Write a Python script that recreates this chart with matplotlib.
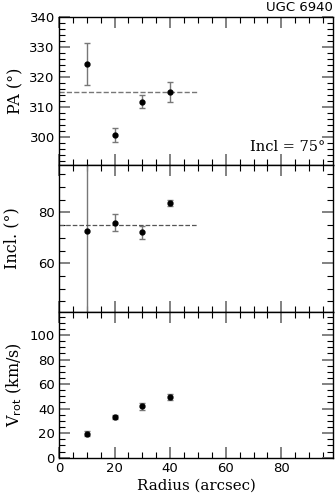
import numpy as np
import matplotlib
matplotlib.use("Agg")
import matplotlib.pyplot as plt
from matplotlib.ticker import MultipleLocator

radius = [10, 20, 30, 40]

pa = [324.5, 300.8, 311.9, 315.2]
pa_err = [7.0, 2.3, 2.2, 3.4]
pa_mean = 315.0

incl = [72.5, 75.9, 72.2, 83.8]
incl_err = [40.0, 3.4, 2.5, 1.2]
incl_mean = 75.0

vrot = [19.5, 33.0, 41.8, 49.8]
vrot_err = [2.0, 1.5, 3.0, 2.5]

serif = "DejaVu Serif"
sans = "DejaVu Sans"

fig = plt.figure(figsize=(3.35, 4.99), dpi=100)
left, width = 0.176, 0.818
ax1 = fig.add_axes([left, 0.670, width, 0.2953])
ax2 = fig.add_axes([left, 0.3754, width, 0.2946])
ax3 = fig.add_axes([left, 0.0828, width, 0.2926])


def style(ax, ymaj, ymin):
    ax.set_xlim(0, 98.6)
    ax.xaxis.set_major_locator(MultipleLocator(20))
    ax.xaxis.set_minor_locator(MultipleLocator(5))
    ax.yaxis.set_major_locator(MultipleLocator(ymaj))
    ax.yaxis.set_minor_locator(MultipleLocator(ymin))
    ax.tick_params(which="both", direction="in", top=True, right=True)
    ax.tick_params(which="major", length=8, width=1.3, color="#777777",
                   labelsize=9.5, pad=3)
    ax.tick_params(which="minor", length=4, width=0.8, color="black")
    for s in ax.spines.values():
        s.set_linewidth(1.0)
    for lab in ax.get_xticklabels() + ax.get_yticklabels():
        lab.set_family(sans)
    ax.yaxis.set_label_coords(-0.128, 0.5)


def points(ax, y, err):
    ax.errorbar(radius, y, yerr=err, fmt="o", color="black", ms=3.5,
                ecolor="#777777", elinewidth=1.0, capsize=2.5, capthick=1.0)


# PA panel
points(ax1, pa, pa_err)
ax1.plot([0, 50], [pa_mean, pa_mean], ls="--", color="#777777", lw=1.0)
ax1.set_ylim(290.9, 340)
style(ax1, 10, 2)
ax1.set_xticklabels([])
ax1.set_ylabel("PA (°)", family=serif, fontsize=11.5)
ax1.text(0.97, 0.12, "Incl = 75°", transform=ax1.transAxes, ha="right",
         va="center", family=serif, fontsize=10.5)
ax1.text(1.0, 1.02, "UGC 6940", transform=ax1.transAxes, ha="right",
         va="bottom", family=sans, fontsize=9.5)

# inclination panel
points(ax2, incl, incl_err)
ax2.plot([0, 50], [incl_mean, incl_mean], ls="--", color="#555555", lw=0.9)
ax2.set_ylim(41, 98.7)
style(ax2, 20, 5)
ax2.set_xticklabels([])
ax2.set_ylabel("Incl. (°)", family=serif, fontsize=11.5)
ax2.yaxis.set_label_coords(-0.14, 0.5)

# rotation velocity panel
points(ax3, vrot, vrot_err)
ax3.set_ylim(0, 119)
style(ax3, 20, 5)
ax3.set_ylabel(r"V$_{\rm rot}$ (km/s)", family=serif, fontsize=11.5)
ax3.set_xlabel("Radius (arcsec)", family=serif, fontsize=10.8, labelpad=3)

fig.savefig("out.png", dpi=100)
